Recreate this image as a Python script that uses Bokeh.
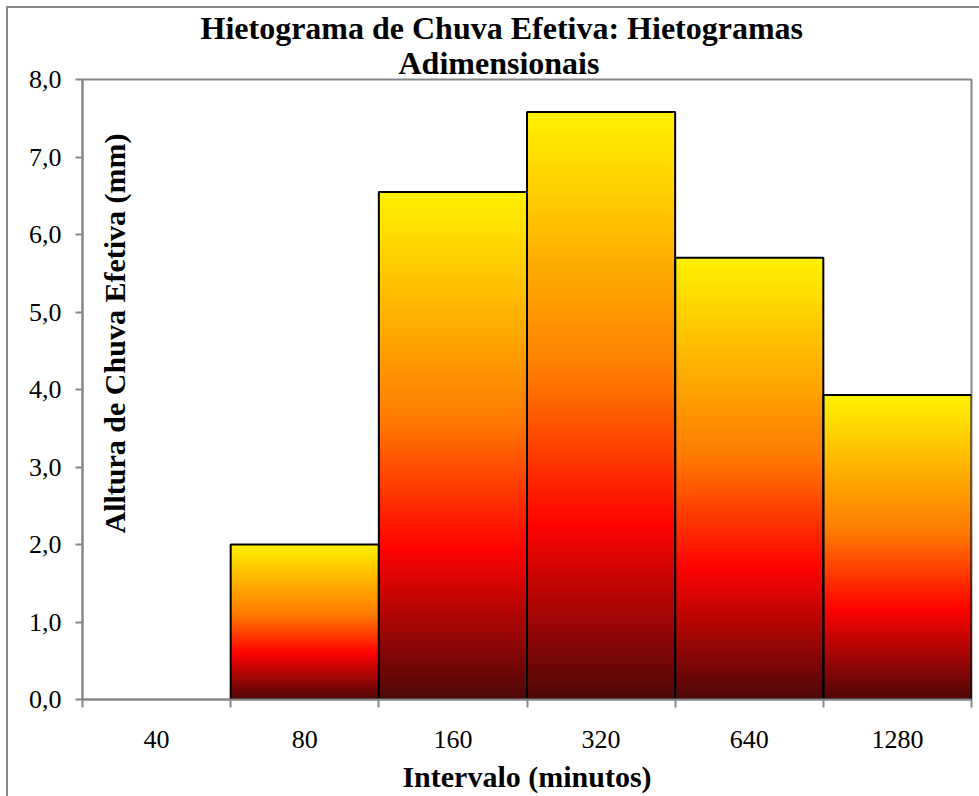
import math
from bokeh.plotting import figure
from bokeh.models import (Range1d, FixedTicker, CustomJSTickFormatter, Label,
                          LinearAxis, Title)
from bokeh.embed import file_html
from bokeh.resources import INLINE

# ---- data ----
categories = ["40", "80", "160", "320", "640", "1280"]
values = [0.0, 2.0, 6.55, 7.58, 5.70, 3.93]
y_ticks = [0, 1, 2, 3, 4, 5, 6, 7, 8]
title_lines = ["Hietograma de Chuva Efetiva: Hietogramas", "Adimensionais"]
x_title = "Intervalo (minutos)"
y_title = "Alltura de Chuva Efetiva (mm)"

# Excel "Fire" gradient stops (fraction of bar height from bottom)
stops = [(0.0, (0x4D, 0x08, 0x08)), (0.30, (0xFF, 0x03, 0x00)),
         (0.55, (0xFF, 0x7A, 0x00)), (1.0, (0xFF, 0xF2, 0x00))]


def grad_color(f):
    for (f0, c0), (f1, c1) in zip(stops[:-1], stops[1:]):
        if f <= f1:
            t = (f - f0) / (f1 - f0)
            r, g, b = (round(a + (bb - a) * t) for a, bb in zip(c0, c1))
            return "#%02x%02x%02x" % (r, g, b)
    return "#%02x%02x%02x" % stops[-1][1]


FONT = "Liberation Serif"
GRAY = "#878787"
N = 120

p = figure(width=973, height=790, output_backend="svg", toolbar_location=None,
           x_range=Range1d(0, len(categories)), y_range=Range1d(0, 8),
           min_border_left=74, min_border_right=10, min_border_top=71,
           min_border_bottom=99, x_axis_type=None, y_axis_type=None,
           margin=(6, 0, 0, 6),
           styles={"border-left": "2px solid #878787", "border-top": "2px solid #878787"})
p.title = None
p.grid.visible = False
p.outline_line_color = GRAY
p.outline_line_width = 2
p.background_fill_color = "white"
p.border_fill_color = "white"

# gradient: stacked rectangles drawn from tallest to shortest (painter's order)
L, R, B, T, C = [], [], [], [], []
for i, v in enumerate(values):
    if v <= 0:
        continue
    for k in range(N - 1, -1, -1):
        L.append(i)
        R.append(i + 1)
        B.append(0)
        T.append(v * (k + 1) / N)
        C.append(grad_color((k + 0.5) / N))
p.quad(left=L, right=R, bottom=B, top=T, fill_color=C, line_color=None)

# outlines
p.quad(left=list(range(len(values))), right=[i + 1 for i in range(len(values))],
       bottom=[0] * len(values), top=values, fill_alpha=0, line_color="black",
       line_width=2, line_alpha=[1 if v > 0 else 0 for v in values])

# y axis
yaxis = LinearAxis(ticker=FixedTicker(ticks=y_ticks),
                   formatter=CustomJSTickFormatter(code="return tick.toFixed(1).replace('.', ',')"))
yaxis.axis_line_color = GRAY
yaxis.axis_line_width = 2
yaxis.major_tick_line_color = GRAY
yaxis.major_tick_line_width = 2
yaxis.major_tick_out = 7
yaxis.major_tick_in = 0
yaxis.minor_tick_line_color = None
yaxis.major_label_text_font = FONT
yaxis.major_label_text_font_size = "26px"
yaxis.major_label_text_color = "black"
yaxis.major_label_standoff = 14
p.add_layout(yaxis, "left")

# x axis
centers = [i + 0.5 for i in range(len(categories))]
bounds = list(range(len(categories) + 1))
xaxis = LinearAxis(ticker=FixedTicker(ticks=centers, minor_ticks=bounds),
                   formatter=CustomJSTickFormatter(args=dict(labels=categories),
                                                   code="return labels[Math.floor(tick)]"))
xaxis.axis_line_color = GRAY
xaxis.axis_line_width = 2
xaxis.major_tick_line_color = None
xaxis.major_tick_out = 0
xaxis.major_tick_in = 0
xaxis.minor_tick_line_color = GRAY
xaxis.minor_tick_line_width = 2
xaxis.minor_tick_out = 8
xaxis.minor_tick_in = 0
xaxis.major_label_text_font = FONT
xaxis.major_label_text_font_size = "26px"
xaxis.major_label_text_color = "black"
xaxis.major_label_standoff = 23
xaxis.axis_label = x_title
xaxis.axis_label_text_font = FONT
xaxis.axis_label_text_font_style = "bold"
xaxis.axis_label_text_font_size = "30px"
xaxis.axis_label_text_color = "black"
xaxis.axis_label_standoff = 9
p.add_layout(xaxis, "below")

# titles (added nearest-first)
p.add_layout(Title(text=title_lines[1], align="left", offset=316, standoff=-3,
                   text_font=FONT, text_font_style="bold", text_font_size="32px",
                   text_color="black"), "above")
p.add_layout(Title(text=title_lines[0], align="left", offset=118, standoff=-3,
                   text_font=FONT, text_font_style="bold", text_font_size="32px",
                   text_color="black"), "above")

# y-axis title sits inside the plot area
p.add_layout(Label(x=32, y=366, x_units="screen", y_units="screen", text=y_title,
                   angle=math.pi / 2, text_font=FONT, text_font_style="bold",
                   text_font_size="30px", text_align="center", text_baseline="middle",
                   text_color="black"))

open("out.html", "w").write(file_html(p, INLINE))
